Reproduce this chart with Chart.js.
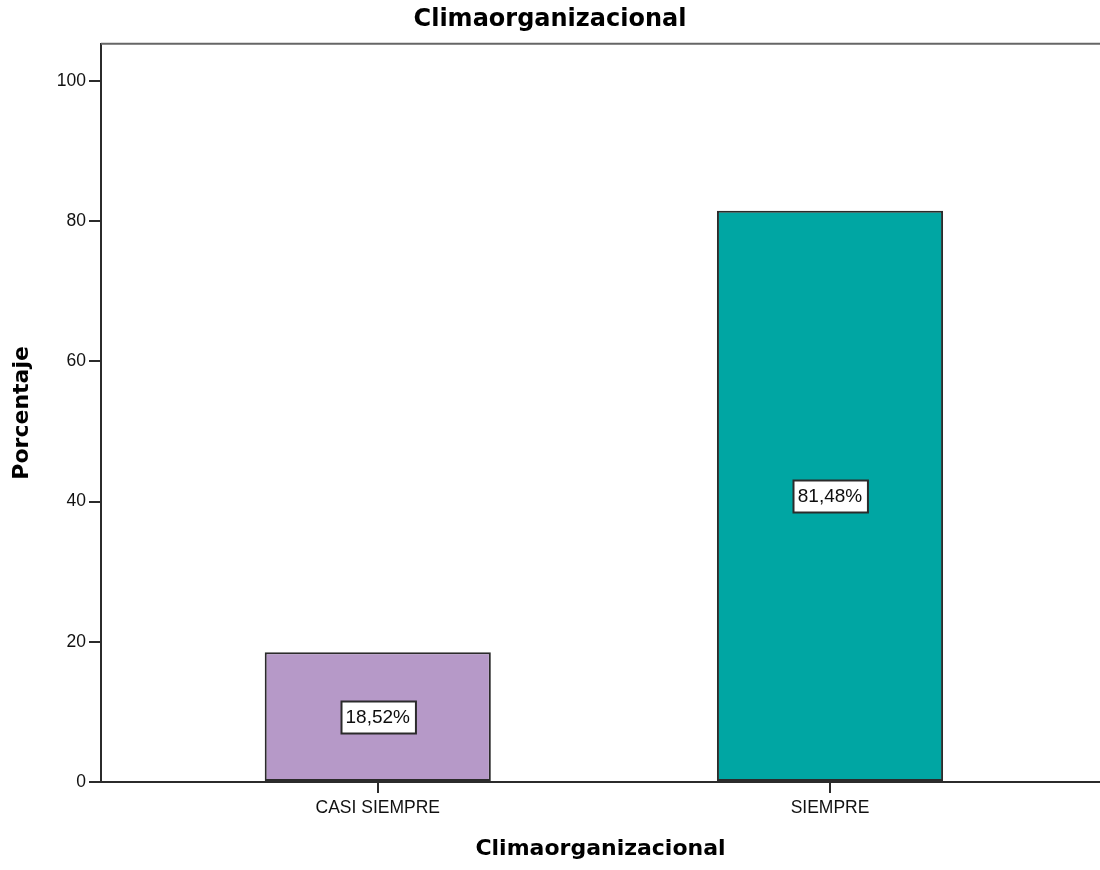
<!DOCTYPE html>
<html lang="es">
<head>
<meta charset="utf-8">
<title>Climaorganizacional</title>
<script src="https://cdn.jsdelivr.net/npm/chart.js@4.4.1/dist/chart.umd.min.js"></script>
<style>
  html, body { margin: 0; padding: 0; background: #ffffff; }
  #chart { display: block; }
</style>
</head>
<body>
<canvas id="chart" width="1100" height="870"></canvas>
<script>
// Categorías y porcentajes
const categories = ['CASI SIEMPRE', 'SIEMPRE'];
const percentages = [18.52, 81.48];
const barColors = ['#B699C8', '#00A6A3'];
const yTicks = [0, 20, 40, 60, 80, 100];

const chartTitle = 'Climaorganizacional';
const xAxisTitle = 'Climaorganizacional';
const yAxisTitle = 'Porcentaje';

const tickFont = { family: '"Liberation Sans", Arial, sans-serif', size: 17.5 };
const boldFont = (size) => ({ family: '"DejaVu Sans", sans-serif', weight: 'bold', size });
const lineColor = '#2b2b2b';

const formatPct = (v) => v.toFixed(2).replace('.', ',') + '%';

// White background and the top frame line
const framePlugin = {
  id: 'frame',
  beforeDraw(chart) {
    const { ctx, width, height } = chart;
    ctx.save();
    ctx.fillStyle = '#ffffff';
    ctx.fillRect(0, 0, width, height);
    ctx.restore();
  },
  afterDraw(chart) {
    const { ctx, chartArea } = chart;
    ctx.save();
    ctx.strokeStyle = '#666666';
    ctx.lineWidth = 2;
    ctx.beginPath();
    ctx.moveTo(chartArea.left, chartArea.top);
    ctx.lineTo(chartArea.right, chartArea.top);
    ctx.stroke();
    ctx.restore();
  }
};

// Boxed percentage label in the middle of each bar
const valueLabelPlugin = {
  id: 'valueLabels',
  afterDatasetsDraw(chart) {
    const { ctx } = chart;
    const meta = chart.getDatasetMeta(0);
    const values = chart.data.datasets[0].data;
    ctx.save();
    ctx.font = '19px "Liberation Sans", Arial, sans-serif';
    ctx.textAlign = 'center';
    ctx.textBaseline = 'middle';
    meta.data.forEach((bar, i) => {
      const { x, y, base } = bar.getProps(['x', 'y', 'base'], true);
      const cy = (y + base) / 2;
      const text = formatPct(values[i].y);
      const w = ctx.measureText(text).width + 10;
      const h = 32;
      const left = Math.round(x - w / 2) + 0.5;
      const top = Math.round(cy - h / 2) + 0.5;
      ctx.fillStyle = '#ffffff';
      ctx.fillRect(left, top, w, h);
      ctx.strokeStyle = lineColor;
      ctx.lineWidth = 2;
      ctx.strokeRect(left, top, w, h);
      ctx.fillStyle = '#0d0d0d';
      ctx.fillText(text, x, cy + 1);
    });
    ctx.restore();
  }
};

new Chart(document.getElementById('chart'), {
  type: 'bar',
  data: {
    datasets: [{
      data: percentages.map((v, i) => ({ x: i, y: v })),
      backgroundColor: barColors,
      borderColor: lineColor,
      borderWidth: 2,
      borderSkipped: false,
      categoryPercentage: 1,
      barPercentage: 0.5
    }]
  },
  options: {
    responsive: false,
    animation: false,
    devicePixelRatio: 1,
    layout: { padding: 0 },
    plugins: {
      legend: { display: false },
      tooltip: { enabled: false },
      title: {
        display: true,
        text: chartTitle,
        color: '#000000',
        font: boldFont(24),
        padding: { top: 5, bottom: 10 }
      }
    },
    scales: {
      x: {
        type: 'linear',
        offset: false,
        min: -0.612,
        max: 1.597,
        afterBuildTicks: (axis) => { axis.ticks = categories.map((_, i) => ({ value: i })); },
        afterFit: (scale) => { scale.height = 88; },
        ticks: {
          callback: (v) => categories[v] ?? '',
          autoSkip: false,
          maxRotation: 0,
          padding: 5,
          color: '#111111',
          font: tickFont
        },
        grid: {
          offset: false,
          drawOnChartArea: false,
          drawTicks: true,
          tickLength: 11,
          color: lineColor,
          lineWidth: 2
        },
        border: { display: true, color: lineColor, width: 2 },
        title: {
          display: true,
          text: xAxisTitle,
          color: '#000000',
          font: boldFont(22),
          padding: { top: 0, bottom: 8 }
        }
      },
      y: {
        min: 0,
        max: 105.3,
        afterBuildTicks: (axis) => { axis.ticks = yTicks.map((v) => ({ value: v })); },
        afterFit: (scale) => { scale.width = 101; },
        ticks: {
          padding: 3,
          color: '#111111',
          font: tickFont
        },
        grid: {
          drawOnChartArea: false,
          drawTicks: true,
          tickLength: 12,
          color: lineColor,
          lineWidth: 2
        },
        border: { display: true, color: lineColor, width: 2 },
        title: {
          display: true,
          text: yAxisTitle,
          color: '#000000',
          font: boldFont(22),
          padding: { top: 9, bottom: 0 }
        }
      }
    }
  },
  plugins: [framePlugin, valueLabelPlugin]
});
</script>
</body>
</html>
